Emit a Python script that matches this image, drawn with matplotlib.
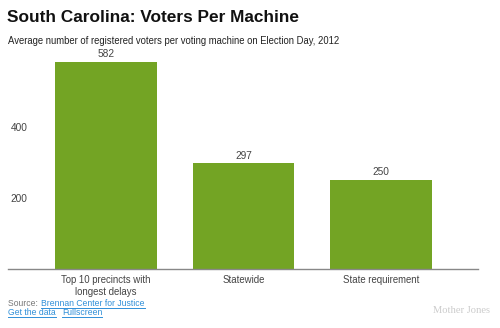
import matplotlib
matplotlib.use("Agg")
import matplotlib.pyplot as plt
from matplotlib.lines import Line2D

categories = ["Top 10 precincts with\nlongest delays", "Statewide", "State requirement"]
voters_per_machine = [582, 297, 250]
y_ticks = [200, 400]
y_tick_labels = ["200", "400"]

plt.rcParams["font.family"] = ["Liberation Sans", "DejaVu Sans"]

BAR = "#73a424"
TEXT = "#444444"
LINK = "#2f8fd8"

fig = plt.figure(figsize=(5.0, 3.28), dpi=100)
ax = fig.add_axes([0.016, 0.180, 0.940, 0.650])

x = range(len(categories))
bars = ax.bar(x, voters_per_machine, width=0.74, color=BAR, zorder=2)
for b, v in zip(bars, voters_per_machine):
    ax.text(b.get_x() + b.get_width() / 2, v + 8, f"{v}", ha="center", va="bottom",
            fontsize=7.3, color=TEXT)

ax.set_xlim(-0.713, 2.705)
ax.set_ylim(0, 600)
ax.set_xticks(list(x))
ax.set_xticklabels(categories, fontsize=6.9, color=TEXT, linespacing=1.3)
ax.tick_params(axis="x", length=0, pad=4)
ax.set_yticks(y_ticks)
ax.set_yticklabels(y_tick_labels, fontsize=7.3, color=TEXT)
ax.tick_params(axis="y", length=0, pad=-2)
for lbl in ax.get_yticklabels():
    lbl.set_horizontalalignment("left")

for side in ("top", "right", "left"):
    ax.spines[side].set_visible(False)
ax.spines["bottom"].set_color("#888888")
ax.spines["bottom"].set_linewidth(1.0)

fig.text(0.014, 0.948, "South Carolina: Voters Per Machine", fontsize=12.4,
         fontweight="bold", color="#111111", va="center")
fig.text(0.016, 0.875, "Average number of registered voters per voting machine on Election Day, 2012",
         fontsize=6.85, color="#222222", va="center")

fig.text(0.016, 0.074, "Source: ", fontsize=6.2, color="#777777", va="center")
links = [
    fig.text(0.082, 0.074, "Brennan Center for Justice", fontsize=6.2, color=LINK, va="center"),
    fig.text(0.016, 0.046, "Get the data", fontsize=6.2, color=LINK, va="center"),
    fig.text(0.124, 0.046, "Fullscreen", fontsize=6.2, color=LINK, va="center"),
]
fig.text(0.980, 0.054, "Mother Jones", fontsize=7.6, color="#cccccc", ha="right",
         va="center", family=["Liberation Serif", "DejaVu Serif"])

# underline the link texts
renderer = fig.canvas.get_renderer()
inv = fig.transFigure.inverted()
for t in links:
    bb = t.get_window_extent(renderer=renderer)
    (x0, y0), (x1, _) = inv.transform([(bb.x0, bb.y0), (bb.x1, bb.y1)])
    fig.add_artist(Line2D([x0, x1], [y0 + 0.002, y0 + 0.002], transform=fig.transFigure,
                          color=LINK, linewidth=0.7))

fig.savefig("out.png", dpi=100, facecolor="white")
